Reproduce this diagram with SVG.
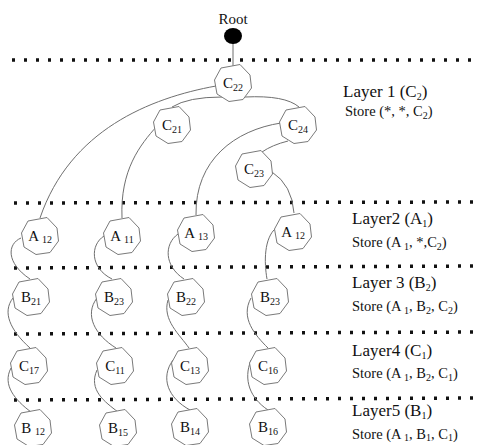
<svg xmlns="http://www.w3.org/2000/svg" width="480" height="445" viewBox="0 0 480 445">
<defs>
<style>
.dot{stroke:#111;stroke-width:3.5;stroke-dasharray:3 9;fill:none}
.edge{fill:none;stroke:#6f6f6f;stroke-width:1}
.nl{font-family:"Liberation Serif","Times New Roman",serif;font-size:15px;fill:#111;text-anchor:middle}
.sub{font-size:10px}
.lt{font-family:"Liberation Serif","Times New Roman",serif;font-size:17px;fill:#111}
.st{font-family:"Liberation Serif","Times New Roman",serif;font-size:14.5px;fill:#111}
</style>
<polygon id="oct" fill="#fff" stroke="#7a7a7a" stroke-width="1" points="7,-18.5 17,-8 18.5,5 10,16.5 -4,18.5 -16,11 -18.5,-3 -12,-15"/>
</defs>
<rect width="480" height="445" fill="#fff"/>

<g id="separators">
<line class="dot" x1="12" y1="60" x2="480" y2="60"/>
<line class="dot" x1="14" y1="203" x2="480" y2="202"/>
<line class="dot" x1="14" y1="268" x2="480" y2="266"/>
<line class="dot" x1="14" y1="334" x2="480" y2="332"/>
<line class="dot" x1="14" y1="400" x2="480" y2="398"/>
</g>

<g id="connectors">
<line class="edge" x1="233" y1="42" x2="233" y2="66"/>
<path class="edge" d="M216,86 C150,98 70,130 40,218"/>
<path class="edge" d="M222,97 Q188,97 172,107"/>
<path class="edge" d="M245,97 Q285,95 299,107"/>
<path class="edge" d="M157,126 C140,145 120,170 122,218"/>
<path class="edge" d="M281,123 C235,130 195,160 196,215"/>
<path class="edge" d="M288,141 Q272,145 262,152"/>
<path class="edge" d="M272,172 Q292,185 294,213"/>
<path class="edge" d="M21,238 C7,244 6,263 30,279"/>
<path class="edge" d="M104,236 C90,245 90,268 112,279"/>
<path class="edge" d="M178,234 C164,244 164,266 184,279"/>
<path class="edge" d="M276,228 C264,238 264,262 267,279"/>
<path class="edge" d="M13,298 C2,312 10,330 30,348"/>
<path class="edge" d="M97,298 C84,315 95,335 116,348"/>
<path class="edge" d="M168,300 C162,320 180,335 189,348"/>
<path class="edge" d="M251,298 C240,318 255,335 268,348"/>
<path class="edge" d="M11,368 C2,385 15,400 31,412"/>
<path class="edge" d="M97,370 C88,390 105,402 118,412"/>
<path class="edge" d="M173,360 C160,378 168,398 190,410"/>
<path class="edge" d="M251,360 C243,380 250,398 268,410"/>
</g>

<g id="root">
<text x="233" y="24" class="nl" font-size="14">Root</text>
<ellipse cx="233" cy="36" rx="9" ry="8" fill="#000"/>
</g>

<g id="n-c22" transform="translate(233,83)"><use href="#oct"/><text class="nl" y="5">C<tspan class="sub" dy="3">22</tspan></text></g>
<g id="n-c21" transform="translate(172,125)"><use href="#oct"/><text class="nl" y="5">C<tspan class="sub" dy="3">21</tspan></text></g>
<g id="n-c24" transform="translate(298,125)"><use href="#oct"/><text class="nl" y="5">C<tspan class="sub" dy="3">24</tspan></text></g>
<g id="n-c23" transform="translate(254,169)"><use href="#oct"/><text class="nl" y="5">C<tspan class="sub" dy="3">23</tspan></text></g>

<g id="n-a12a" transform="translate(40,236)"><use href="#oct"/><text class="nl" y="5">A <tspan class="sub" dy="2">12</tspan></text></g>
<g id="n-a11" transform="translate(122,236)"><use href="#oct"/><text class="nl" y="5">A <tspan class="sub" dy="2">11</tspan></text></g>
<g id="n-a13" transform="translate(196,233)"><use href="#oct"/><text class="nl" y="5">A <tspan class="sub" dy="2">13</tspan></text></g>
<g id="n-a12b" transform="translate(293,232)"><use href="#oct"/><text class="nl" y="5">A <tspan class="sub" dy="2">12</tspan></text></g>

<g id="n-b21" transform="translate(31,297)"><use href="#oct"/><text class="nl" y="5">B<tspan class="sub" dy="3">21</tspan></text></g>
<g id="n-b23a" transform="translate(114,297)"><use href="#oct"/><text class="nl" y="5">B<tspan class="sub" dy="3">23</tspan></text></g>
<g id="n-b22" transform="translate(186,297)"><use href="#oct"/><text class="nl" y="5">B<tspan class="sub" dy="3">22</tspan></text></g>
<g id="n-b23b" transform="translate(270,297)"><use href="#oct"/><text class="nl" y="5">B<tspan class="sub" dy="3">23</tspan></text></g>

<g id="n-c17" transform="translate(29,366)"><use href="#oct"/><text class="nl" y="5">C<tspan class="sub" dy="3">17</tspan></text></g>
<g id="n-c11" transform="translate(115,366)"><use href="#oct"/><text class="nl" y="5">C<tspan class="sub" dy="3">11</tspan></text></g>
<g id="n-c13" transform="translate(190,366)"><use href="#oct"/><text class="nl" y="5">C<tspan class="sub" dy="3">13</tspan></text></g>
<g id="n-c16" transform="translate(268,366)"><use href="#oct"/><text class="nl" y="5">C<tspan class="sub" dy="3">16</tspan></text></g>

<g id="n-b12" transform="translate(33,428)"><use href="#oct"/><text class="nl" y="5">B <tspan class="sub" dy="2">12</tspan></text></g>
<g id="n-b15" transform="translate(118,428)"><use href="#oct"/><text class="nl" y="5">B<tspan class="sub" dy="3">15</tspan></text></g>
<g id="n-b14" transform="translate(190,427)"><use href="#oct"/><text class="nl" y="5">B<tspan class="sub" dy="3">14</tspan></text></g>
<g id="n-b16" transform="translate(268,427)"><use href="#oct"/><text class="nl" y="5">B<tspan class="sub" dy="3">16</tspan></text></g>

<g id="labels">
<text class="lt" x="343" y="97">Layer 1  (C<tspan class="sub" dy="3">2</tspan><tspan dy="-3">)</tspan></text>
<text class="st" x="345" y="116">Store (*, *, C<tspan class="sub" dy="3">2</tspan><tspan dy="-3">)</tspan></text>
<text class="lt" x="352" y="224">Layer2  (A<tspan class="sub" dy="3">1</tspan><tspan dy="-3">)</tspan></text>
<text class="st" x="352" y="247">Store (A<tspan class="sub" dy="3"> 1</tspan><tspan dy="-3">, *,C</tspan><tspan class="sub" dy="3">2</tspan><tspan dy="-3">)</tspan></text>
<text class="lt" x="352" y="288">Layer 3  (B<tspan class="sub" dy="3">2</tspan><tspan dy="-3">)</tspan></text>
<text class="st" x="352" y="311">Store (A<tspan class="sub" dy="3"> 1</tspan><tspan dy="-3">, B</tspan><tspan class="sub" dy="3">2</tspan><tspan dy="-3">, C</tspan><tspan class="sub" dy="3">2</tspan><tspan dy="-3">)</tspan></text>
<text class="lt" x="352" y="356">Layer4  (C<tspan class="sub" dy="3">1</tspan><tspan dy="-3">)</tspan></text>
<text class="st" x="352" y="378">Store (A<tspan class="sub" dy="3"> 1</tspan><tspan dy="-3">, B</tspan><tspan class="sub" dy="3">2</tspan><tspan dy="-3">, C</tspan><tspan class="sub" dy="3">1</tspan><tspan dy="-3">)</tspan></text>
<text class="lt" x="352" y="416">Layer5  (B<tspan class="sub" dy="3">1</tspan><tspan dy="-3">)</tspan></text>
<text class="st" x="352" y="439">Store (A<tspan class="sub" dy="2"> 1</tspan><tspan dy="-2">, B</tspan><tspan class="sub" dy="2">1</tspan><tspan dy="-2">, C</tspan><tspan class="sub" dy="2">1</tspan><tspan dy="-2">)</tspan></text>
</g>
</svg>
